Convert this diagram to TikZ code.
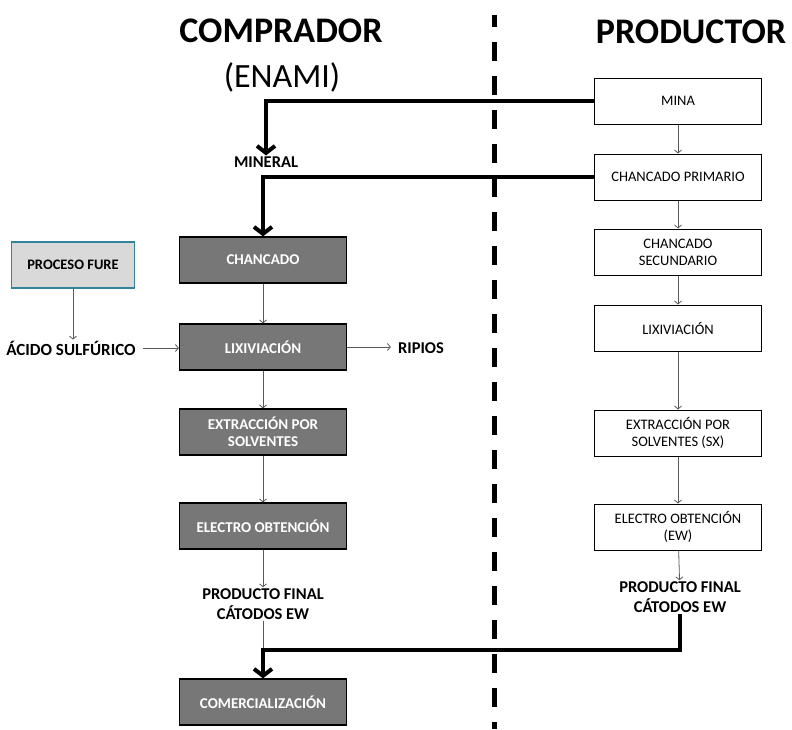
\documentclass[tikz,border=0pt]{standalone}
\usepackage{fontspec}
\setmainfont{Carlito}
\usetikzlibrary{arrows.meta}
\definecolor{boxgray}{RGB}{119,119,119}
\definecolor{furefill}{RGB}{217,217,217}
\definecolor{furedraw}{RGB}{49,132,155}
\tikzset{
  compbox/.style={draw=black, line width=1.2pt, fill=boxgray, text=white, font=\fontsize{15}{17}\selectfont\bfseries, minimum width=167pt, minimum height=46pt, align=center, inner sep=0pt},
  prodbox/.style={draw=black, line width=1pt, fill=white, font=\fontsize{14.5}{17}\selectfont, minimum width=167pt, minimum height=46pt, align=center, inner sep=0pt},
  furebox/.style={draw=furedraw, line width=1.2pt, fill=furefill, font=\fontsize{14.5}{17}\selectfont\bfseries, minimum width=123pt, minimum height=46pt, inner sep=0pt},
  flowtext/.style={font=\fontsize{16.5}{20}\selectfont\bfseries, align=center, inner sep=1pt},
  thinflow/.style={draw=black!65, line width=0.8pt, -{Straight Barb[length=3pt,width=7pt]}},
  thickflow/.style={line width=4pt, -{Straight Barb[length=7pt,width=18pt]}},
  divider/.style={line width=5pt, dash pattern=on 19pt off 15pt, dash phase=7pt},
}
\begin{document}
\begin{tikzpicture}[x=1pt, y=-1pt]
		%%%%% START %%%%%
		\useasboundingbox (0,0) rectangle (792,729);
		
		\coordinate (divtop) at (494,15);
		\coordinate (divbot) at (494,729);
		\draw[divider] (divtop) -- (divbot);
		
		\node[font=\fontsize{36}{40}\selectfont\bfseries] (comprador) at (281,31) {COMPRADOR};
		\node[font=\fontsize{34}{38}\selectfont] (enami) at (282,77) {(ENAMI)};
		\node[font=\fontsize{36}{40}\selectfont\bfseries] (productor) at (691,32) {PRODUCTOR};
		
		\node[prodbox] (mina) at (678,101) {MINA};
		\node[prodbox] (primario) at (678,177) {CHANCADO PRIMARIO};
		\node[prodbox] (secundario) at (678,252) {CHANCADO\\SECUNDARIO};
		\node[prodbox] (lixprod) at (678,328) {LIXIVIACIÓN};
		\node[prodbox] (sxprod) at (678,433) {EXTRACCIÓN POR\\SOLVENTES (SX)};
		\node[prodbox] (ewprod) at (678,527) {ELECTRO OBTENCIÓN\\(EW)};
		\node[flowtext] (finalprod) at (680,597) {PRODUCTO FINAL\\CÁTODOS EW};
		
		\node[flowtext] (mineral) at (266,162) {MINERAL};
		\node[compbox] (chancado) at (263,260) {CHANCADO};
		\node[compbox] (lixcomp) at (263,347) {LIXIVIACIÓN};
		\node[compbox] (sxcomp) at (263,432) {EXTRACCIÓN POR\\SOLVENTES};
		\node[compbox] (ewcomp) at (263,526) {ELECTRO OBTENCIÓN};
		\node[flowtext] (finalcomp) at (263,604) {PRODUCTO FINAL\\CÁTODOS EW};
		\node[compbox] (comercial) at (263,702) {COMERCIALIZACIÓN};
		
		\node[furebox] (fure) at (73,265) {PROCESO FURE};
		\node[flowtext, font=\fontsize{17}{20}\selectfont\bfseries] (acido) at (71,348) {ÁCIDO SULFÚRICO};
		\node[flowtext] (ripios) at (421,348) {RIPIOS};
		
		\draw[thinflow] (mina) -- (primario);
		\draw[thinflow] (primario) -- (secundario);
		\draw[thinflow] (secundario) -- (lixprod);
		\draw[thinflow] (lixprod) -- (sxprod);
		\draw[thinflow] (sxprod) -- (ewprod);
		\draw[thinflow] (ewprod) -- (finalprod);
		
		\draw[thinflow] (chancado) -- (lixcomp);
		\draw[thinflow] (lixcomp) -- (sxcomp);
		\draw[thinflow] (sxcomp) -- (ewcomp);
		\draw[thinflow] (ewcomp) -- (finalcomp);
		\draw[thinflow] (fure.south) -- (fure.south |- acido.north);
		\draw[thinflow, shorten <=6pt] (acido.east) -- (acido.east -| lixcomp.west);
		\draw[thinflow, shorten >=6pt] (lixcomp.east) -- (lixcomp.east -| ripios.west);
		
		\draw[thickflow] (mina.west) -| (mineral.north);
		\draw[thickflow] (primario.west) -| (chancado.north);
		\coordinate (junction) at (263,650);
		\draw[draw=black!65, line width=0.8pt] (finalcomp) -- (junction);
		\draw[thickflow] (finalprod.south) |- (junction) -- (comercial.north);
		
		%%%%% END %%%%%
\end{tikzpicture}
\end{document}
